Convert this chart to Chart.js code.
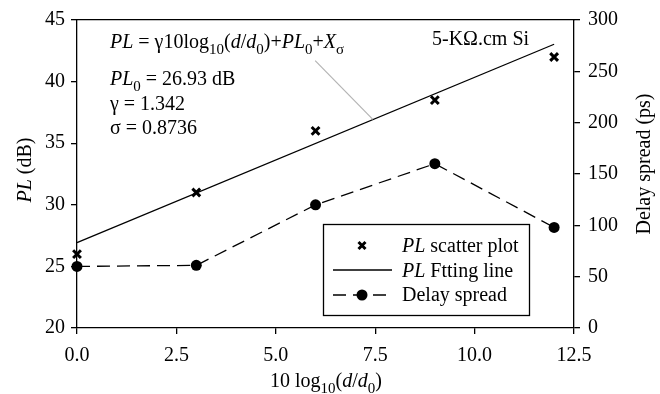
<html>
   <head>
      <script src="https://cdn.jsdelivr.net/npm/chart.js@4.4.1/dist/chart.umd.min.js"></script>
   </head>
   <style>
      html,
      body {
         margin: 0;
         background: #fff;
      }
   </style>

   <body>
      <canvas id="myChart" width="660" height="394"></canvas>
   </body>
   <script>
      // measured points, 10log10(d/d0)
      const xVals = [0, 3, 6, 9, 12];
      const plScatter = [26, 31, 36, 38.5, 42];
      const delaySpread = [60, 61, 120, 160, 98];
      // fitted line end points (PL0 + gamma * x)
      const fitX = [0, 12];
      const fitPL = [26.93, 43.03];

      const xTicks = [0, 2.5, 5, 7.5, 10, 12.5];
      const plTicks = [20, 25, 30, 35, 40, 45];
      const delayTicks = [0, 50, 100, 150, 200, 250, 300];

      const FONT = "'Liberation Serif', 'Times New Roman', serif";
      const FS = 20;

      function pts(xs, ys) {
         return xs.map((x, i) => ({ x: x, y: ys[i] }));
      }

      // draw text pieces: [text, style] style: i = italic, s = subscript
      function drawRich(ctx, parts, x, y, size) {
         let cx = x;
         parts.forEach(([t, st]) => {
            st = st || "";
            const sub = st.includes("s");
            const fs = sub ? size * 0.75 : size;
            ctx.font = (st.includes("i") ? "italic " : "") + fs + "px " + FONT;
            ctx.fillText(t, cx, sub ? y + size * 0.28 : y);
            cx += ctx.measureText(t).width;
         });
         return cx - x;
      }

      function richWidth(ctx, parts, size) {
         let w = 0;
         parts.forEach(([t, st]) => {
            st = st || "";
            const fs = st.includes("s") ? size * 0.75 : size;
            ctx.font = (st.includes("i") ? "italic " : "") + fs + "px " + FONT;
            w += ctx.measureText(t).width;
         });
         return w;
      }

      const extras = {
         id: "extras",
         afterDraw(chart) {
            const ctx = chart.ctx;
            const xs = chart.scales.x;
            const ys = chart.scales.y;
            ctx.save();
            ctx.fillStyle = "#000";
            ctx.textBaseline = "alphabetic";
            ctx.textAlign = "left";

            // leader line to fitting line
            ctx.strokeStyle = "#b4b4b4";
            ctx.lineWidth = 1.2;
            ctx.beginPath();
            ctx.moveTo(xs.getPixelForValue(5.99), ys.getPixelForValue(41.7));
            ctx.lineTo(xs.getPixelForValue(7.44), ys.getPixelForValue(36.93));
            ctx.stroke();

            // formula + parameters
            drawRich(ctx, [["PL", "i"], [" = γ10log"], ["10", "s"], ["("], ["d", "i"], ["/"], ["d", "i"], ["0", "s"], [")+"], ["PL", "i"], ["0", "s"], ["+"], ["X", "i"], ["σ", "s"]], 110, 48, FS);
            drawRich(ctx, [["PL", "i"], ["0", "s"], [" = 26.93 dB"]], 110, 85, FS);
            drawRich(ctx, [["γ = 1.342"]], 110, 110, FS);
            drawRich(ctx, [["σ = 0.8736"]], 110, 134, FS);
            drawRich(ctx, [["5-KΩ.cm Si"]], 432, 45, FS);

            // legend
            ctx.strokeStyle = "#000";
            ctx.lineWidth = 1.3;
            ctx.strokeRect(323.5, 224.5, 206, 91);
            // scatter marker
            ctx.lineWidth = 3;
            ctx.beginPath();
            ctx.moveTo(358.5, 242);
            ctx.lineTo(365.5, 249);
            ctx.moveTo(365.5, 242);
            ctx.lineTo(358.5, 249);
            ctx.stroke();
            ctx.lineWidth = 1.3;
            ctx.beginPath();
            ctx.moveTo(333, 270);
            ctx.lineTo(392, 270);
            ctx.stroke();
            ctx.setLineDash([13, 7]);
            ctx.beginPath();
            ctx.moveTo(333, 295);
            ctx.lineTo(392, 295);
            ctx.stroke();
            ctx.setLineDash([]);
            ctx.beginPath();
            ctx.arc(362, 295, 5.5, 0, Math.PI * 2);
            ctx.fill();
            drawRich(ctx, [["PL", "i"], [" scatter plot"]], 402, 252, FS);
            drawRich(ctx, [["PL", "i"], [" Ftting line"]], 402, 277, FS);
            drawRich(ctx, [["Delay spread"]], 402, 301, FS);

            // axis titles
            const xt = [["10 log"], ["10", "s"], ["("], ["d", "i"], ["/"], ["d", "i"], ["0", "s"], [")"]];
            const xw = richWidth(ctx, xt, FS);
            drawRich(ctx, xt, 326 - xw / 2, 387, FS);

            const lt = [["PL", "i"], [" (dB)"]];
            const lw = richWidth(ctx, lt, FS);
            ctx.save();
            ctx.translate(31, 170);
            ctx.rotate(-Math.PI / 2);
            drawRich(ctx, lt, -lw / 2, 0, FS);
            ctx.restore();

            const rt = [["Delay spread (ps)"]];
            const rw = richWidth(ctx, rt, FS);
            ctx.save();
            ctx.translate(650, 164);
            ctx.rotate(-Math.PI / 2);
            drawRich(ctx, rt, -rw / 2, 0, FS);
            ctx.restore();

            ctx.restore();
         },
      };

      const tickFont = { family: FONT, size: FS };
      const gridOpts = { display: true, drawOnChartArea: false, drawTicks: true, tickLength: 6, color: "#000", lineWidth: 1.3 };
      const borderOpts = { display: true, color: "#000", width: 1.3 };

      const config = {
         type: "scatter",
         data: {
            datasets: [
               {
                  label: "PL scatter plot",
                  data: pts(xVals, plScatter),
                  yAxisID: "y",
                  showLine: false,
                  pointStyle: "crossRot",
                  pointRadius: 5.5,
                  borderWidth: 3,
                  borderColor: "#000",
                  backgroundColor: "#000",
                  clip: false,
               },
               {
                  label: "PL Ftting line",
                  data: pts(fitX, fitPL),
                  yAxisID: "y",
                  showLine: true,
                  pointRadius: 0,
                  borderWidth: 1.3,
                  borderColor: "#000",
                  clip: false,
               },
               {
                  label: "Delay spread",
                  data: pts(xVals, delaySpread),
                  yAxisID: "y2",
                  showLine: true,
                  borderDash: [13, 7],
                  borderWidth: 1.3,
                  borderColor: "#000",
                  backgroundColor: "#000",
                  pointStyle: "circle",
                  pointRadius: 5.5,
                  pointBorderWidth: 0,
                  clip: false,
               },
            ],
         },
         options: {
            responsive: false,
            animation: false,
            layout: { padding: 0 },
            plugins: {
               legend: { display: false },
               tooltip: { enabled: false },
            },
            scales: {
               x: {
                  type: "linear",
                  position: "bottom",
                  min: 0,
                  max: 12.5,
                  afterBuildTicks: (s) => (s.ticks = xTicks.map((v) => ({ value: v }))),
                  ticks: { color: "#000", font: tickFont, padding: 10, maxRotation: 0, callback: (v) => v.toFixed(1) },
                  grid: gridOpts,
                  border: borderOpts,
                  afterFit: (s) => (s.height = 66),
               },
               xTop: {
                  type: "linear",
                  position: "top",
                  min: 0,
                  max: 12.5,
                  ticks: { display: false },
                  grid: { display: false },
                  border: borderOpts,
                  afterFit: (s) => (s.height = 16),
               },
               y: {
                  type: "linear",
                  position: "left",
                  min: 20,
                  max: 45,
                  afterBuildTicks: (s) => (s.ticks = plTicks.map((v) => ({ value: v }))),
                  ticks: { color: "#000", font: tickFont, padding: 6 },
                  grid: gridOpts,
                  border: borderOpts,
                  afterFit: (s) => (s.width = 77),
               },
               y2: {
                  type: "linear",
                  position: "right",
                  min: 0,
                  max: 300,
                  afterBuildTicks: (s) => (s.ticks = delayTicks.map((v) => ({ value: v }))),
                  ticks: { color: "#000", font: tickFont, padding: 8 },
                  grid: gridOpts,
                  border: borderOpts,
                  afterFit: (s) => (s.width = 86),
               },
            },
         },
         plugins: [extras],
      };

      const myChart = new Chart(document.getElementById("myChart"), config);
   </script>
</html>
